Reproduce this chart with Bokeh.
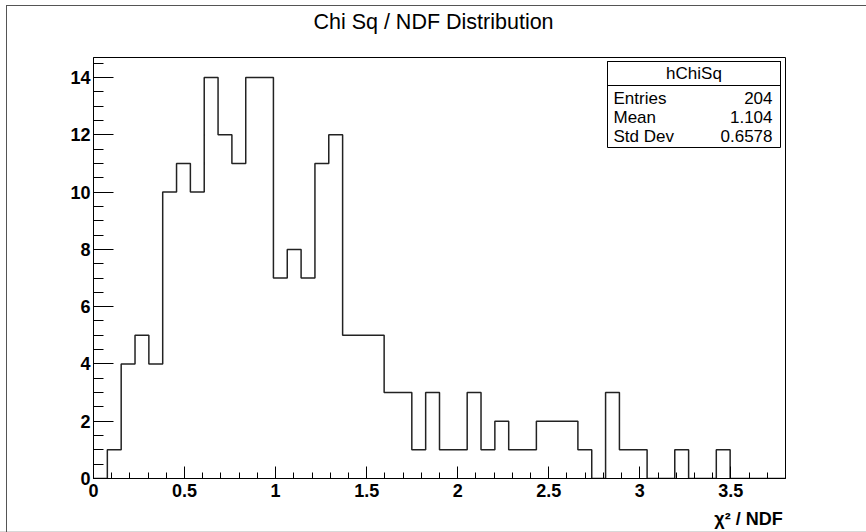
import numpy as np
from bokeh.plotting import figure
from bokeh.models import Range1d, FixedTicker, Label, BoxAnnotation, LinearAxis
from bokeh.embed import file_html
from bokeh.resources import INLINE

# ---------------- data ----------------
x_min, x_max = 0.0, 3.8
n_bins = 50
counts = [0, 1, 4, 5, 4, 10, 11, 10, 14, 12,
          11, 14, 14, 7, 8, 7, 11, 12, 5, 5,
          5, 3, 3, 1, 3, 1, 1, 3, 1, 2,
          1, 1, 2, 2, 2, 1, 0, 3, 1, 1,
          0, 0, 1, 0, 0, 1, 0, 0, 0, 0]
y_max = 14.7
title_text = "Chi Sq / NDF Distribution"
x_title = "\u03c7\u00b2 / NDF"
hist_name = "hChiSq"
stat_names = ["Entries", "Mean", "Std Dev"]
stat_values = ["204", "1.104", "0.6578"]
x_ticks = [0, 0.5, 1, 1.5, 2, 2.5, 3, 3.5]
x_tick_labels = ["0", "0.5", "1", "1.5", "2", "2.5", "3", "3.5"]
y_ticks = [0, 2, 4, 6, 8, 10, 12, 14]
y_tick_labels = ["0", "2", "4", "6", "8", "10", "12", "14"]

# ---------------- geometry ----------------
W, H = 866, 532
FL, FR, FT, FB = 93, 785, 57, 478
FONT = "Liberation Sans"


def dx(px):
    return x_min + (px - FL) / (FR - FL) * (x_max - x_min)


def dy(py):
    return (FB - py) / (FB - FT) * y_max


p = figure(width=W, height=H, output_backend="svg", toolbar_location=None,
           title_location=None,
           x_range=Range1d(x_min, x_max), y_range=Range1d(0, y_max),
           min_border_left=FL, min_border_right=W - FR,
           min_border_top=FT, min_border_bottom=H - FB)
p.grid.visible = False
p.background_fill_color = "white"
p.border_fill_color = "white"
p.border_fill_alpha = 0
p.outline_line_color = "black"
p.outline_line_width = 1
# canvas edge lines (left/top dark, bottom light) painted as the page background
p.styles = {
    "background": (
        "linear-gradient(#555555,#555555) 6px 5px / 1px 527px no-repeat, "
        "linear-gradient(#555555,#555555) 6px 5px / 860px 1px no-repeat, "
        "linear-gradient(#d8d8d8,#d8d8d8) 0px 531px / 866px 1px no-repeat, "
        "white"
    )
}


def label_axis(pos, text, size, bold, standoff):
    """An axis with no line/ticks that only shows one text label at pos."""
    return LinearAxis(ticker=FixedTicker(ticks=[pos], minor_ticks=[]),
                      major_label_overrides={pos: text},
                      axis_line_color=None, major_tick_line_color=None,
                      minor_tick_line_color=None, major_tick_in=0, major_tick_out=0,
                      minor_tick_in=0, minor_tick_out=0,
                      major_label_standoff=standoff,
                      major_label_text_font=FONT,
                      major_label_text_font_style="bold" if bold else "normal",
                      major_label_text_font_size=size, major_label_text_color="black")


# histogram outline
edges = np.linspace(x_min, x_max, n_bins + 1)
xs = np.repeat(edges, 2)
ys = np.concatenate([[0], np.repeat(counts, 2), [0]])
p.line(xs, ys, line_color="#222222", line_width=1.5)

# axes
x_minor = [round(v, 2) for v in np.arange(0, x_max + 1e-9, 0.1)]
p.xaxis.ticker = FixedTicker(ticks=x_ticks, minor_ticks=x_minor)
p.xaxis.major_label_overrides = {t: l for t, l in zip(x_ticks, x_tick_labels)}
y_minor = [v for v in np.arange(0, y_max, 0.5)]
p.yaxis.ticker = FixedTicker(ticks=y_ticks, minor_ticks=y_minor)
p.yaxis.major_label_overrides = {t: l for t, l in zip(y_ticks, y_tick_labels)}

for ax in (p.xaxis, p.yaxis):
    ax.axis_line_color = "black"
    ax.axis_line_width = 1
    ax.major_tick_line_color = "black"
    ax.minor_tick_line_color = "black"
    ax.major_tick_out = 0
    ax.minor_tick_out = 0
    ax.major_label_text_font = FONT
    ax.major_label_text_font_style = "bold"
    ax.major_label_text_font_size = "18px"
    ax.major_label_text_color = "black"

p.xaxis.major_label_standoff = 5
p.xaxis.major_tick_in = 12
p.xaxis.minor_tick_in = 6
p.yaxis.major_tick_in = 20
p.yaxis.minor_tick_in = 10
p.yaxis.major_label_standoff = 3

# title (label-only axis above) and x-axis title (label-only axis below)
p.add_layout(label_axis(dx(433), title_text, "21.5px", False, 24), "above")
p.add_layout(label_axis(dx(FR - 37), x_title, "18px", True, 9), "below")

# stats box
bl, br, bt, bb, bh = 607, 780, 61, 147, 85
p.add_layout(BoxAnnotation(left=dx(bl), right=dx(br), top=dy(bt), bottom=dy(bb),
                           fill_color="white", fill_alpha=1, line_color="black",
                           line_width=1, line_alpha=1, level="overlay"))
p.add_layout(BoxAnnotation(left=dx(bl), right=dx(br), top=dy(bt), bottom=dy(bh),
                           fill_alpha=0, line_color="black", line_width=1,
                           line_alpha=1, level="overlay"))
p.add_layout(Label(x=dx((bl + br) / 2), y=dy(73), text=hist_name, text_align="center",
                   text_baseline="middle", text_font=FONT, text_font_size="17px",
                   text_color="black", level="overlay"))
row_y = [97.5, 116.5, 135.5]
for name, val, ry in zip(stat_names, stat_values, row_y):
    p.add_layout(Label(x=dx(613), y=dy(ry), text=name, text_align="left",
                       text_baseline="middle", text_font=FONT, text_font_size="17px",
                       text_color="black", level="overlay"))
    p.add_layout(Label(x=dx(772), y=dy(ry), text=val, text_align="right",
                       text_baseline="middle", text_font=FONT, text_font_size="17px",
                       text_color="black", level="overlay"))

open("out.html", "w").write(file_html(p, INLINE))
